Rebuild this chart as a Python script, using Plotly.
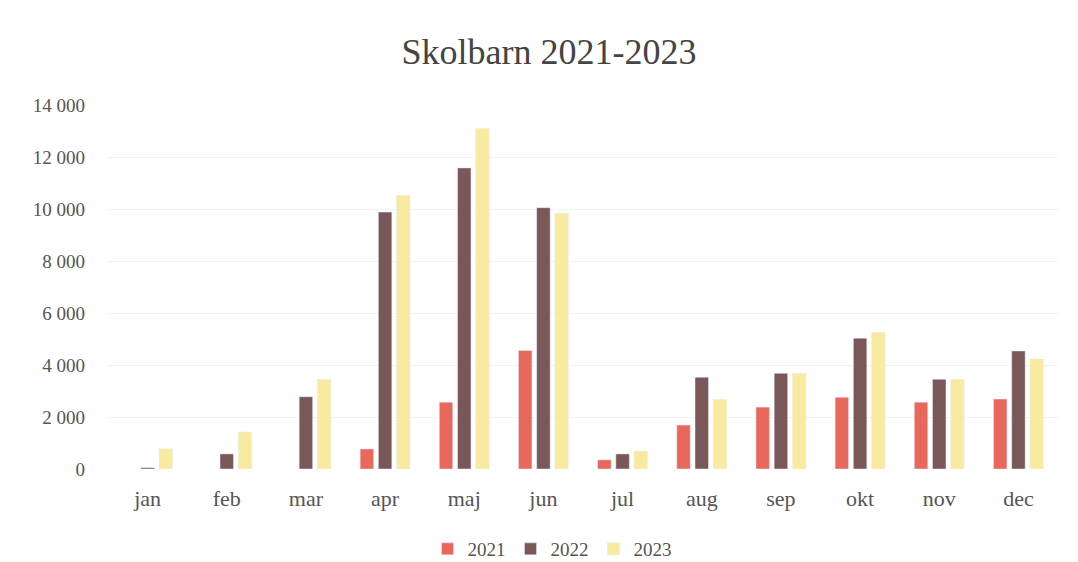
import plotly.graph_objects as go

months = ["jan", "feb", "mar", "apr", "maj", "jun", "jul", "aug", "sep", "okt", "nov", "dec"]
y2021 = [None, None, None, 770, 2570, 4560, 350, 1690, 2380, 2760, 2570, 2690]
y2022 = [50, 580, 2780, 9880, 11580, 10050, 580, 3530, 3680, 5030, 3450, 4540]
y2023 = [780, 1420, 3450, 10530, 13100, 9840, 690, 2680, 3680, 5250, 3450, 4230]
yticks = [0, 2000, 4000, 6000, 8000, 10000, 12000, 14000]
ytick_text = ["0", "2 000", "4 000", "6 000", "8 000", "10 000", "12 000", "14 000"]

font_family = "Liberation Serif, DejaVu Serif, serif"
text_color = "#555555"

fig = go.Figure()
fig.add_trace(go.Bar(name="2021", x=months, y=y2021, marker_color="#E8685C"))
fig.add_trace(go.Bar(name="2022", x=months, y=y2022, marker_color="#7A5758"))
fig.add_trace(go.Bar(name="2023", x=months, y=y2023, marker_color="#F8EA9E"))

fig.update_layout(
    width=1078, height=562,
    barmode="group", bargap=0.31, bargroupgap=0.26,
    plot_bgcolor="white", paper_bgcolor="white",
    font=dict(family=font_family, color=text_color, size=17),
    title=dict(text="Skolbarn 2021-2023", x=549 / 1078, xanchor="center", y=1 - 51 / 562, yanchor="middle",
               font=dict(size=36, color="#444444", family=font_family)),
    margin=dict(l=108, r=20, t=105, b=93, autoexpand=False),
    legend=dict(orientation="h", xref="container", x=552 / 1078, xanchor="center",
                yref="container", y=1 - 549 / 562, yanchor="middle",
                font=dict(size=19, color=text_color), traceorder="normal",
                itemwidth=30),
    xaxis=dict(showgrid=False, showline=False, ticks="", automargin=False,
               tickfont=dict(size=22, color=text_color), ticklabelstandoff=14),
    yaxis=dict(range=[0, 14000], tickvals=yticks, ticktext=ytick_text, showgrid=True,
               gridcolor="#f3f3f3", zeroline=False, showline=False, ticks="", automargin=False,
               tickfont=dict(size=19, color=text_color), ticklabelstandoff=22),
)

fig.write_html("out.html", config={"displayModeBar": False},
               post_script="document.body.style.margin='0';")
